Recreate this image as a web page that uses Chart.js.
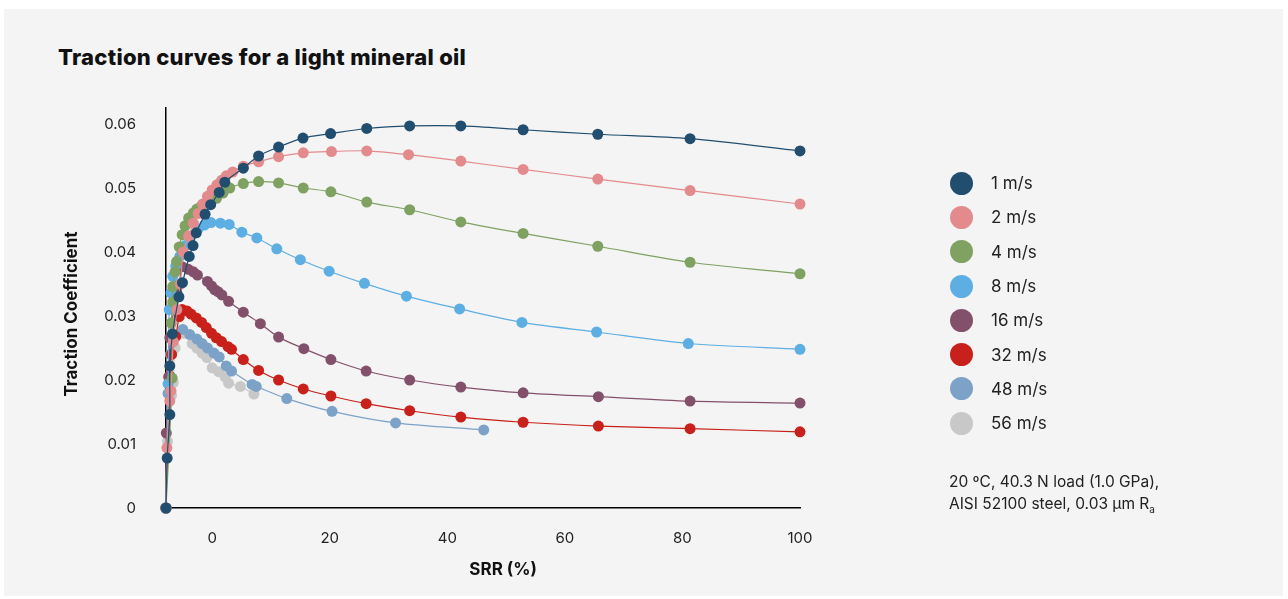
<!DOCTYPE html>
<html>
<head>
<meta charset="utf-8">
<script src="https://cdn.jsdelivr.net/npm/chart.js@4"></script>
<style>
    body { margin: 0; background: #ffffff; font-family: Inter, "Noto Sans", sans-serif; }
    #panel { position: absolute; left: 4px; top: 9px; width: 1279px; height: 587px; background: #f4f4f4; }
    #title { position: absolute; left: 58px; top: 44px; font-size: 22px; font-weight: 800; color: #111; letter-spacing: 0.3px; }
    #chartBox { position: absolute; left: 0; top: 0; width: 1288px; height: 599px; }
    #legend { position: absolute; left: 950px; top: 166px; }
    .item { height: 34.3px; display: flex; align-items: center; font-size: 17px; color: #222; }
    .dot { width: 23px; height: 23px; border-radius: 50%; margin-right: 18px; }
    #note { position: absolute; left: 949px; top: 471px; font-size: 15.5px; line-height: 22px; color: #222; }
</style>
</head>
<body>
<div id="panel"></div>
<div id="title">Traction curves for a light mineral oil</div>
<div id="chartBox"><canvas id="myChart" width="1288" height="599"></canvas></div>
<div id="legend"></div>
<div id="note">20 ºC, 40.3 N load (1.0 GPa),<br>AISI 52100 steel, 0.03 µm R<sub style="font-size:10px">a</sub></div>
<script>
// Series names and colours
const seriesLabels = ['1 m/s', '2 m/s', '4 m/s', '8 m/s', '16 m/s', '32 m/s', '48 m/s', '56 m/s'];
const seriesColors = ['#214d6e', '#e38b8c', '#7fa162', '#5daee3', '#83506b', '#c8201a', '#7ca2c8', '#c9c8c8'];

// Tick labels
const xTicks = [0, 20, 40, 60, 80, 100];
const yTicks = [0, 0.01, 0.02, 0.03, 0.04, 0.05, 0.06];

// SRR (%) and traction coefficient, one pair per speed
const srr1 = [-7.85, -7.65, -7.2, -7.2, -6.75, -5.65, -5.05, -3.9, -3.25, -2.7, -1.2, -0.25, 1.2, 2.15, 5.3, 7.9, 11.3, 15.45, 20.15, 26.3, 33.6, 42.3, 52.9, 65.6, 81.3, 100];
const tc1 = [0, 0.0078, 0.0146, 0.0222, 0.0272, 0.0330, 0.0352, 0.0393, 0.0410, 0.0430, 0.0459, 0.0474, 0.0493, 0.0509, 0.0531, 0.0550, 0.0564, 0.0578, 0.0585, 0.0593, 0.0597, 0.0597, 0.0591, 0.0584, 0.0577, 0.0558];

const srr2 = [-7.85, -7.7, -7.2, -7.0, -6.6, -6.0, -5.4, -4.9, -4.0, -3.2, -2.4, -1.6, -0.8, 0, 0.8, 1.6, 2.4, 3.5, 5.3, 7.9, 11.3, 15.5, 20.3, 26.3, 33.4, 42.3, 52.9, 65.6, 81.3, 100];
const tc2 = [0, 0.0094, 0.0167, 0.0183, 0.0260, 0.0310, 0.0350, 0.0400, 0.0425, 0.0445, 0.0460, 0.0475, 0.0487, 0.0497, 0.0505, 0.0512, 0.0519, 0.0525, 0.0534, 0.0541, 0.0549, 0.0555, 0.0557, 0.0558, 0.0552, 0.0542, 0.0529, 0.0514, 0.0496, 0.0475];

const srr4 = [-7.85, -6.8, -6.95, -6.7, -6.7, -6.3, -6.05, -5.6, -5.1, -4.6, -4.0, -3.2, -2.6, -1.8, -1.0, -0.1, 0.75, 1.85, 3.0, 5.3, 7.9, 11.3, 15.5, 20.2, 26.3, 33.6, 42.3, 52.9, 65.6, 81.3, 100];
const tc4 = [0, 0.0203, 0.0289, 0.0322, 0.0346, 0.0369, 0.0385, 0.0408, 0.0427, 0.0441, 0.0453, 0.0461, 0.0467, 0.0472, 0.0477, 0.0480, 0.0484, 0.0492, 0.0500, 0.0507, 0.0510, 0.0508, 0.0500, 0.0494, 0.0478, 0.0466, 0.0447, 0.0429, 0.0409, 0.0384, 0.0366];

const srr8 = [-7.85, -7.5, -7.3, -7.0, -6.7, -6.2, -5.5, -4.6, -3.6, -2.4, -1.3, -0.2, 1.4, 2.9, 5.05, 7.6, 11.0, 15.0, 19.9, 25.9, 33.05, 42.1, 52.7, 65.4, 81.0, 100];
const tc8 = [0, 0.0194, 0.0310, 0.0336, 0.0362, 0.0378, 0.0393, 0.0410, 0.0425, 0.0436, 0.0442, 0.0446, 0.0445, 0.0443, 0.0431, 0.0422, 0.0405, 0.0388, 0.0370, 0.0351, 0.0331, 0.0311, 0.0290, 0.0275, 0.0257, 0.0248];

const srr16 = [-7.85, -7.8, -7.4, -7.2, -6.0, -5.6, -5.1, -4.05, -3.2, -2.5, -0.8, -0.1, 0.45, 1.0, 1.65, 2.8, 5.3, 8.2, 11.3, 15.6, 20.2, 26.2, 33.6, 42.3, 52.9, 65.7, 81.3, 100];
const tc16 = [0, 0.0117, 0.0205, 0.0266, 0.0336, 0.0349, 0.0377, 0.0373, 0.0369, 0.0364, 0.0354, 0.0347, 0.0341, 0.0338, 0.0333, 0.0323, 0.0306, 0.0288, 0.0267, 0.0249, 0.0232, 0.0214, 0.0200, 0.0189, 0.0180, 0.0174, 0.0167, 0.0164];

const srr32 = [-7.85, -7.2, -6.9, -6.2, -5.6, -5.1, -4.3, -3.6, -2.7, -1.8, -1.0, -0.1, 0.7, 1.6, 2.7, 3.3, 5.3, 7.9, 11.3, 15.5, 20.2, 26.2, 33.6, 42.3, 52.9, 65.7, 81.3, 100];
const tc32 = [0, 0.0206, 0.0240, 0.0268, 0.0299, 0.0310, 0.0308, 0.0303, 0.0297, 0.0290, 0.0282, 0.0273, 0.0266, 0.0260, 0.0252, 0.0248, 0.0232, 0.0215, 0.0200, 0.0186, 0.0175, 0.0163, 0.0152, 0.0142, 0.0134, 0.0128, 0.0124, 0.0119];

const srr48 = [-7.9, -7.5, -7.1, -6.4, -5.0, -3.8, -2.6, -1.7, -0.8, 0.3, 1.2, 2.4, 3.3, 6.8, 7.5, 12.7, 20.4, 31.2, 46.2];
const tc48 = [0, 0.0179, 0.0240, 0.0270, 0.0279, 0.0271, 0.0264, 0.0257, 0.0250, 0.0242, 0.0236, 0.0222, 0.0214, 0.0193, 0.0190, 0.0171, 0.0151, 0.0133, 0.0122];

const srr56 = [-7.9, -7.6, -6.9, -6.6, -6.3, -4.9, -3.4, -2.6, -1.7, -0.9, 0, 1.1, 2.2, 2.8, 4.8, 7.1];
const tc56 = [0, 0.0104, 0.0176, 0.0196, 0.0250, 0.0273, 0.0257, 0.0250, 0.0242, 0.0235, 0.0219, 0.0213, 0.0205, 0.0195, 0.0190, 0.0178];

const allSrr = [srr1, srr2, srr4, srr8, srr16, srr32, srr48, srr56];
const allTc = [tc1, tc2, tc4, tc8, tc16, tc32, tc48, tc56];

// Build the datasets
let datasets = [];
for (let i = 0; i < seriesLabels.length; i++) {
    let pts = [];
    for (let j = 0; j < allSrr[i].length; j++) {
        pts.push({ x: allSrr[i][j], y: allTc[i][j] });
    }
    datasets.push({
        label: seriesLabels[i],
        data: pts,
        borderColor: seriesColors[i],
        backgroundColor: seriesColors[i],
        pointBackgroundColor: seriesColors[i],
        pointBorderWidth: 0,
        pointRadius: 5.5,
        borderWidth: 1.2,
        tension: 0.3,
        clip: false
    });
}

// Legend in HTML
let html = '';
for (let i = 0; i < seriesLabels.length; i++) {
    html += '<div class="item"><div class="dot" style="background:' + seriesColors[i] + '"></div>' + seriesLabels[i] + '</div>';
}
document.getElementById('legend').innerHTML = html;

const font = 'Inter, "Noto Sans", sans-serif';
const nb = '\u00a0';

new Chart(document.getElementById('myChart'), {
    type: 'line',
    data: { datasets: datasets },
    options: {
        responsive: false,
        animation: false,
        layout: { padding: { left: 58, top: 108, right: 488, bottom: 15 } },
        plugins: { legend: { display: false }, tooltip: { enabled: false } },
        scales: {
            x: {
                type: 'linear',
                min: -7.85,
                max: 100,
                grid: { display: false, drawTicks: false },
                border: { display: true, color: '#000', width: 1.5 },
                afterBuildTicks: function(axis) { axis.ticks = xTicks.map(v => ({ value: v })); },
                afterFit: function(axis) { axis.height = 76; },
                ticks: { padding: 21, color: '#222', font: { family: font, size: 15 } },
                // leading spaces move the title right, as in the original
                title: { display: true, text: nb.repeat(10) + 'SRR (%)', color: '#111', font: { family: font, size: 17, weight: 'bold' } }
            },
            y: {
                min: 0,
                max: 0.0625,
                grid: { display: false, drawTicks: false },
                border: { display: true, color: '#000', width: 1.5 },
                afterBuildTicks: function(axis) { axis.ticks = yTicks.map(v => ({ value: v })); },
                afterFit: function(axis) { axis.width = 108; },
                ticks: {
                    padding: 30, color: '#222', font: { family: font, size: 15 },
                    callback: function(v) { return String(+v.toFixed(2)); }
                },
                title: { display: true, text: 'Traction Coefficient' + nb.repeat(3), color: '#111', font: { family: font, size: 17, weight: 'bold' } }
            }
        }
    }
});
</script>
</body>
</html>
